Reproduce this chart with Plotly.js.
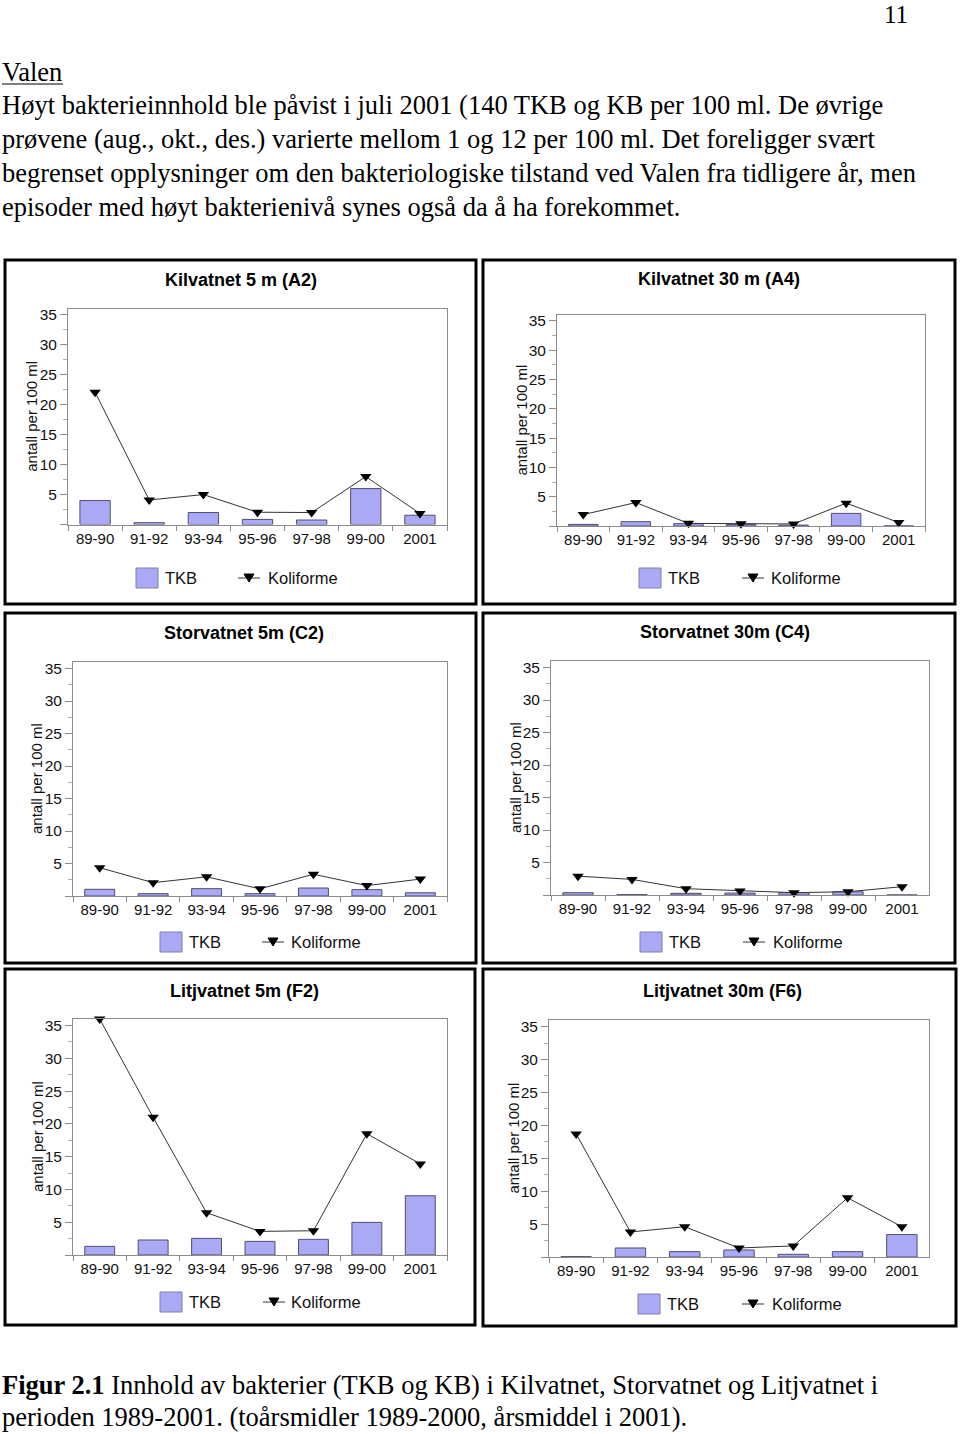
<!DOCTYPE html>
<html>
<head>
<meta charset="utf-8">
<script src="https://cdn.plot.ly/plotly-3.0.1.min.js"></script>
<style>
html,body{margin:0;padding:0;background:#fff;}
#chart{width:960px;height:1434px;}
</style>
</head>
<body>
<div id="chart"></div>
<script>
// ---- Data ----
const categories = ['89-90', '91-92', '93-94', '95-96', '97-98', '99-00', '2001'];

const kil5Tkb   = [4.0, 0.3, 2.0, 0.85, 0.75, 6.0, 1.55];
const kil5Koli  = [22.1, 4.1, 5.0, 2.05, 2.0, 8.0, 1.85];
const kil30Tkb  = [0.28, 0.74, 0.4, 0.28, 0.15, 2.15, 0];
const kil30Koli = [1.95, 4.0, 0.45, 0.4, 0.35, 3.9, 0.6];
const stor5Tkb  = [1.03, 0.36, 1.13, 0.36, 1.23, 0.98, 0.5];
const stor5Koli = [4.35, 2.05, 2.95, 1.1, 3.35, 1.6, 2.6];
const stor30Tkb = [0.36, 0.05, 0.26, 0.3, 0.36, 0.5, 0];
const stor30Koli= [2.9, 2.4, 0.97, 0.62, 0.36, 0.5, 1.28];
const lit5Tkb   = [1.32, 2.29, 2.54, 2.08, 2.39, 4.98, 9.04];
const lit5Koli  = [36, 21, 6.45, 3.6, 3.7, 18.5, 13.9];
const lit30Tkb  = [0.05, 1.37, 0.81, 1.07, 0.41, 0.81, 3.41];
const lit30Koli = [18.7, 3.8, 4.6, 1.37, 1.68, 9.0, 4.6];

const panelTitles = ['Kilvatnet 5 m (A2)', 'Kilvatnet 30 m (A4)', 'Storvatnet 5m (C2)',
                     'Storvatnet 30m (C4)', 'Litjvatnet 5m (F2)', 'Litjvatnet 30m (F6)'];
const seriesNames = ['TKB', 'Koliforme'];
const yTickValues = [0, 5, 10, 15, 20, 25, 30, 35];
const yTickLabels = ['', '5', '10', '15', '20', '25', '30', '35'];
const yAxisTitle = 'antall per 100 ml';

const pageNumber = '11';
const headingText = 'Valen';
const bodyLines = [
  'Høyt bakterieinnhold ble påvist i juli 2001 (140 TKB og KB per 100 ml. De øvrige',
  'prøvene (aug., okt., des.) varierte mellom 1 og 12 per 100 ml. Det foreligger svært',
  'begrenset opplysninger om den bakteriologiske tilstand ved Valen fra tidligere år, men',
  'episoder med høyt bakterienivå synes også da å ha forekommet.'
];
const captionLines = [
  '<b>Figur 2.1</b> Innhold av bakterier (TKB og KB) i Kilvatnet, Storvatnet og Litjvatnet i',
  'perioden 1989-2001. (toårsmidler 1989-2000, årsmiddel i 2001).'
];

const tkbSeries = [kil5Tkb, kil30Tkb, stor5Tkb, stor30Tkb, lit5Tkb, lit30Tkb];
const koliSeries = [kil5Koli, kil30Koli, stor5Koli, stor30Koli, lit5Koli, lit30Koli];

// ---- Geometry (pixels) ----
const W = 960, H = 1434;
const px = x => x / W;
const py = y => 1 - y / H;

const plotBoxes = [
  {x0: 68, x1: 447, y0: 309, y1: 524.5},
  {x0: 557, x1: 925, y0: 315, y1: 526},
  {x0: 73, x1: 447, y0: 662, y1: 896},
  {x0: 551, x1: 929, y0: 661, y1: 895},
  {x0: 73, x1: 447, y0: 1019, y1: 1255},
  {x0: 549, x1: 929, y0: 1020, y1: 1257}
];
const frames = [
  {x0: 5, x1: 476, y0: 260, y1: 604},
  {x0: 483, x1: 955, y0: 260, y1: 604},
  {x0: 5, x1: 476, y0: 613, y1: 963},
  {x0: 483, x1: 955, y0: 613, y1: 963},
  {x0: 5, x1: 475, y0: 969, y1: 1325},
  {x0: 483, x1: 956, y0: 969, y1: 1326}
];
const titlePos = [
  {x: 241, y: 280}, {x: 719, y: 279}, {x: 244, y: 633},
  {x: 725, y: 632}, {x: 244, y: 991}, {x: 722, y: 991}
];
const yTitleX = [32, 521, 37, 515, 37, 513];
const legendPos = [
  {sq: 136, y: 578, line: 238, koli: 266},
  {sq: 639, y: 578, line: 742, koli: 769},
  {sq: 160, y: 942, line: 262, koli: 289},
  {sq: 640, y: 942, line: 743, koli: 771},
  {sq: 160, y: 1302, line: 263, koli: 289},
  {sq: 638, y: 1304, line: 742, koli: 770}
];

const BAR_FILL = '#a9a9f6';
const BAR_LINE = '#4f4f6e';
const AXIS_COL = '#8c8c8c';
const SANS = 'Liberation Sans, Arial, sans-serif';
const SERIF = 'Liberation Serif, Times New Roman, serif';

const traces = [];
const layout = {
  width: W, height: H,
  margin: {l: 0, r: 0, t: 0, b: 0},
  paper_bgcolor: '#ffffff',
  plot_bgcolor: '#ffffff',
  showlegend: false,
  bargap: 0.44,
  font: {family: SANS, color: '#111'},
  shapes: [],
  annotations: []
};

for (let i = 0; i < 6; i++) {
  const n = i === 0 ? '' : String(i + 1);
  const b = plotBoxes[i];
  traces.push({
    type: 'bar', x: categories, y: tkbSeries[i], name: seriesNames[0],
    xaxis: 'x' + n, yaxis: 'y' + n,
    marker: {color: BAR_FILL, line: {color: BAR_LINE, width: 1}}
  });
  traces.push({
    type: 'scatter', mode: 'lines+markers', x: categories, y: koliSeries[i], name: seriesNames[1],
    xaxis: 'x' + n, yaxis: 'y' + n, cliponaxis: false,
    line: {color: '#333', width: 1},
    marker: {symbol: 'triangle-down', size: 10, color: '#000'}
  });
  layout['xaxis' + n] = {
    domain: [px(b.x0), px(b.x1)], anchor: 'y' + n, type: 'category',
    range: [-0.5, 6.5], tickson: 'boundaries', ticks: 'outside', ticklen: 5,
    tickcolor: AXIS_COL, showline: true, linecolor: AXIS_COL, linewidth: 1, mirror: true,
    showgrid: false, zeroline: false, fixedrange: true,
    tickfont: {family: SANS, size: 15, color: '#111'}
  };
  layout['yaxis' + n] = {
    domain: [py(b.y1), py(b.y0)], anchor: 'x' + n,
    range: [0, 36], tickmode: 'array', tickvals: yTickValues, ticktext: yTickLabels,
    ticks: 'outside', ticklen: 7, tickcolor: AXIS_COL,
    minor: {dtick: 2.5, tick0: 0, ticks: 'outside', ticklen: 4, tickcolor: '#b0b0b0', showgrid: false},
    showline: true, linecolor: AXIS_COL, linewidth: 1, mirror: true,
    showgrid: false, zeroline: false, fixedrange: true,
    tickfont: {family: SANS, size: 15.5, color: '#111'}
  };
  // frame
  const f = frames[i];
  layout.shapes.push({type: 'rect', xref: 'paper', yref: 'paper',
    x0: px(f.x0), x1: px(f.x1), y0: py(f.y1), y1: py(f.y0),
    line: {color: '#000', width: 3}});
  // title
  layout.annotations.push({xref: 'paper', yref: 'paper', x: px(titlePos[i].x), y: py(titlePos[i].y),
    xanchor: 'center', yanchor: 'middle', showarrow: false,
    text: '<b>' + panelTitles[i] + '</b>', font: {family: SANS, size: 18, color: '#000'}});
  // y title
  layout.annotations.push({xref: 'paper', yref: 'paper', x: px(yTitleX[i]), y: py((b.y0 + b.y1) / 2),
    xanchor: 'center', yanchor: 'middle', showarrow: false, textangle: -90,
    text: yAxisTitle, font: {family: SANS, size: 15, color: '#111'}});
  // legend
  const L = legendPos[i];
  layout.shapes.push({type: 'rect', xref: 'paper', yref: 'paper',
    x0: px(L.sq), x1: px(L.sq + 22), y0: py(L.y + 10), y1: py(L.y - 10),
    fillcolor: BAR_FILL, line: {color: '#8080a8', width: 1}});
  layout.annotations.push({xref: 'paper', yref: 'paper', x: px(L.sq + 27), y: py(L.y),
    xanchor: 'left', yanchor: 'middle', showarrow: false, text: seriesNames[0],
    font: {family: SANS, size: 16.5, color: '#111'}});
  layout.shapes.push({type: 'line', xref: 'paper', yref: 'paper',
    x0: px(L.line), x1: px(L.line + 22), y0: py(L.y), y1: py(L.y),
    line: {color: '#333', width: 1}});
  const cx = L.line + 11, cy = L.y;
  layout.shapes.push({type: 'path', xref: 'paper', yref: 'paper',
    path: 'M' + px(cx - 5) + ',' + py(cy - 4) + ' L' + px(cx + 5) + ',' + py(cy - 4) +
          ' L' + px(cx) + ',' + py(cy + 4) + ' Z',
    fillcolor: '#000', line: {color: '#000', width: 1}});
  layout.annotations.push({xref: 'paper', yref: 'paper', x: px(L.koli), y: py(L.y),
    xanchor: 'left', yanchor: 'middle', showarrow: false, text: seriesNames[1],
    font: {family: SANS, size: 16.5, color: '#111'}});
}

// ---- Page text ----
const serifFont = {family: SERIF, size: 26.5, color: '#000'};
layout.annotations.push({xref: 'paper', yref: 'paper', x: px(909), y: py(0),
  xanchor: 'right', yanchor: 'top', showarrow: false, text: pageNumber,
  font: {family: SERIF, size: 25, color: '#000'}, borderpad: 0});
layout.annotations.push({xref: 'paper', yref: 'paper', x: px(0), y: py(72),
  xanchor: 'left', yanchor: 'middle', showarrow: false, text: headingText, font: serifFont});
layout.shapes.push({type: 'line', xref: 'paper', yref: 'paper',
  x0: px(2), x1: px(63), y0: py(84), y1: py(84), line: {color: '#000', width: 1.2}});
const bodyY = [105, 139, 173, 207];
bodyLines.forEach((t, k) => {
  layout.annotations.push({xref: 'paper', yref: 'paper', x: px(0), y: py(bodyY[k]),
    xanchor: 'left', yanchor: 'middle', showarrow: false, text: t, font: serifFont});
});
const capY = [1385, 1417];
captionLines.forEach((t, k) => {
  layout.annotations.push({xref: 'paper', yref: 'paper', x: px(0), y: py(capY[k]),
    xanchor: 'left', yanchor: 'middle', showarrow: false, text: t, font: serifFont});
});

Plotly.newPlot('chart', traces, layout, {staticPlot: true, displayModeBar: false});
</script>
</body>
</html>
